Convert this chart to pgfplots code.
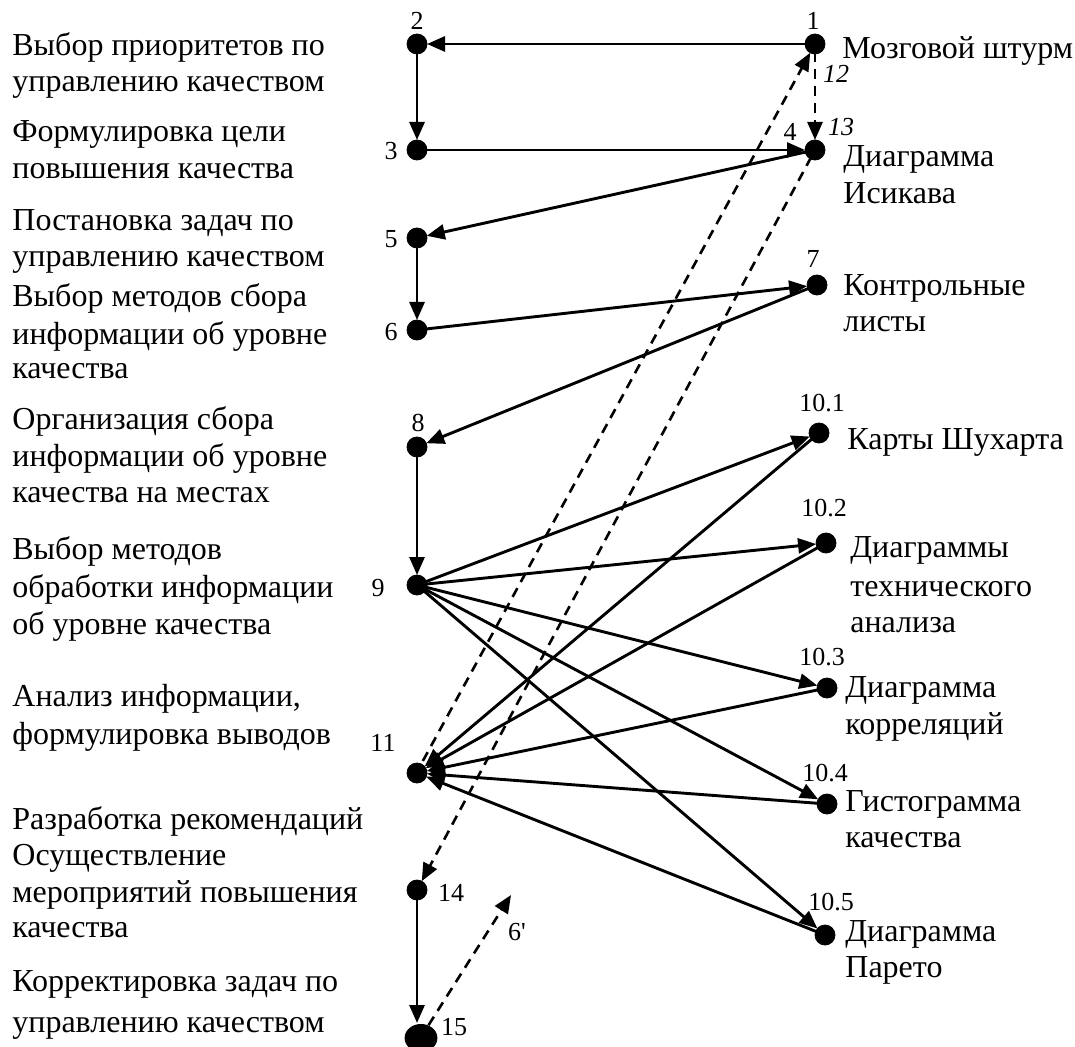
\documentclass[border=0pt]{standalone}
\usepackage{fontspec}
\setmainfont{Liberation Serif}
\usepackage{pgfplots}
\pgfplotsset{compat=1.18}
\usetikzlibrary{arrows.meta}
\tikzset{
  lbl/.style={anchor=base west, inner sep=0pt, font=\fontsize{16}{18}\selectfont},
  num/.style={anchor=base, inner sep=0pt, font=\fontsize{13}{15}\selectfont},
  arr/.style={black, line width=1.45pt, -{Triangle[length=9pt,width=7.5pt]}, shorten >=5pt, shorten <=2pt},
  darr/.style={black, line width=1.3pt, dash pattern=on 5pt off 3.5pt, -{Triangle[length=9pt,width=7.5pt]}, shorten >=5pt, shorten <=4pt},
}
\begin{document}
\begin{tikzpicture}
\begin{axis}[width=537.5pt,height=523.5pt,scale only axis,hide axis,
  xmin=0,xmax=1075,ymin=0,ymax=1047,y dir=reverse,clip=false]
% solid arrows
\addplot[arr] coordinates {(815,44) (417,44)};
\addplot[arr] coordinates {(417,44) (417,150)};
\addplot[arr] coordinates {(417,150) (815,150)};
\addplot[arr] coordinates {(815,150) (417,238)};
\addplot[arr] coordinates {(417,238) (417,330)};
\addplot[arr] coordinates {(417,330) (817,285)};
\addplot[arr] coordinates {(817,285) (417,447)};
\addplot[arr] coordinates {(417,447) (417,585)};
\addplot[arr] coordinates {(417,585) (819,433)};
\addplot[arr] coordinates {(417,585) (826,543)};
\addplot[arr] coordinates {(417,585) (827,688)};
\addplot[arr] coordinates {(417,585) (827,804)};
\addplot[arr] coordinates {(417,585) (825,935)};
\addplot[arr] coordinates {(819,433) (417,773)};
\addplot[arr] coordinates {(826,543) (417,773)};
\addplot[arr] coordinates {(827,688) (417,773)};
\addplot[arr] coordinates {(827,804) (417,773)};
\addplot[arr] coordinates {(825,935) (417,773)};
\addplot[arr, shorten >=7pt] coordinates {(417,890) (417,1037)};
% dashed arrows
\addplot[darr] coordinates {(815,44) (815,150)};
\addplot[darr] coordinates {(419,768) (815,44)};
\addplot[darr] coordinates {(815,150) (417,890)};
\addplot[darr, shorten <=7pt, shorten >=0pt] coordinates {(421,1037) (511,895)};
% nodes
\addplot[only marks, mark=*, mark size=5pt, black] coordinates {
(815,44) (417,44) (417,150) (815,150) (417,238) (417,330) (817,285)
(417,447) (417,585) (819,433) (826,543) (827,688) (827,804) (825,935)
(417,773) (417,890)};
\addplot[only marks, mark=*, mark size=8pt, mark options={yscale=0.85}, black] coordinates {(421,1038)};
% left labels
\node[lbl] at (axis cs:12,56) {Выбор приоритетов по};
\node[lbl] at (axis cs:12,92) {управлению качеством};
\node[lbl] at (axis cs:12,142) {Формулировка цели};
\node[lbl] at (axis cs:12,179) {повышения качества};
\node[lbl] at (axis cs:12,231) {Постановка задач по};
\node[lbl] at (axis cs:12,267) {управлению качеством};
\node[lbl] at (axis cs:12,307) {Выбор методов сбора};
\node[lbl] at (axis cs:12,344) {информации об уровне};
\node[lbl] at (axis cs:12,379) {качества};
\node[lbl] at (axis cs:12,429) {Организация сбора};
\node[lbl] at (axis cs:12,466) {информации об уровне};
\node[lbl] at (axis cs:12,502) {качества на местах};
\node[lbl] at (axis cs:12,559) {Выбор методов};
\node[lbl] at (axis cs:12,597) {обработки информации};
\node[lbl] at (axis cs:12,634) {об уровне качества};
\node[lbl] at (axis cs:12,706) {Анализ информации,};
\node[lbl] at (axis cs:12,744) {формулировка выводов};
\node[lbl] at (axis cs:12,829) {Разработка рекомендаций};
\node[lbl] at (axis cs:12,865) {Осуществление};
\node[lbl] at (axis cs:12,902) {мероприятий повышения};
\node[lbl] at (axis cs:12,937) {качества};
\node[lbl] at (axis cs:12,991) {Корректировка задач по};
\node[lbl] at (axis cs:12,1032) {управлению качеством};
% right labels
\node[lbl] at (axis cs:842,59) {Мозговой штурм};
\node[lbl] at (axis cs:843,167) {Диаграмма};
\node[lbl] at (axis cs:843,204) {Исикава};
\node[lbl] at (axis cs:843,296) {Контрольные};
\node[lbl] at (axis cs:843,332) {листы};
\node[lbl] at (axis cs:847,449) {Карты Шухарта};
\node[lbl] at (axis cs:850,557) {Диаграммы};
\node[lbl] at (axis cs:850,596) {технического};
\node[lbl] at (axis cs:850,632) {анализа};
\node[lbl] at (axis cs:845,697) {Диаграмма};
\node[lbl] at (axis cs:845,734) {корреляций};
\node[lbl] at (axis cs:845,811) {Гистограмма};
\node[lbl] at (axis cs:845,847) {качества};
\node[lbl] at (axis cs:845,941) {Диаграмма};
\node[lbl] at (axis cs:845,977) {Парето};
% number labels
\node[num] at (axis cs:813,30) {1};
\node[num] at (axis cs:417,30) {2};
\node[num] at (axis cs:391,160) {3};
\node[num] at (axis cs:790,141) {4};
\node[num] at (axis cs:391,248) {5};
\node[num] at (axis cs:391,341) {6};
\node[num] at (axis cs:813,268) {7};
\node[num] at (axis cs:418,431) {8};
\node[num] at (axis cs:378,596) {9};
\node[num] at (axis cs:822,411) {10.1};
\node[num] at (axis cs:824,516) {10.2};
\node[num] at (axis cs:822,665) {10.3};
\node[num] at (axis cs:825,781) {10.4};
\node[num] at (axis cs:831,910) {10.5};
\node[num] at (axis cs:383,751) {11};
\node[num] at (axis cs:451,901) {14};
\node[num] at (axis cs:454,1035) {15};
\node[num] at (axis cs:517,940) {6\textquotesingle};
\node[num, font=\fontsize{13}{15}\selectfont\itshape] at (axis cs:836,83) {12};
\node[num, font=\fontsize{13}{15}\selectfont\itshape] at (axis cs:841,136) {13};
\end{axis}
\pgfresetboundingbox
\path[use as bounding box] (current axis.south west) rectangle (current axis.north east);
\end{tikzpicture}
\end{document}
